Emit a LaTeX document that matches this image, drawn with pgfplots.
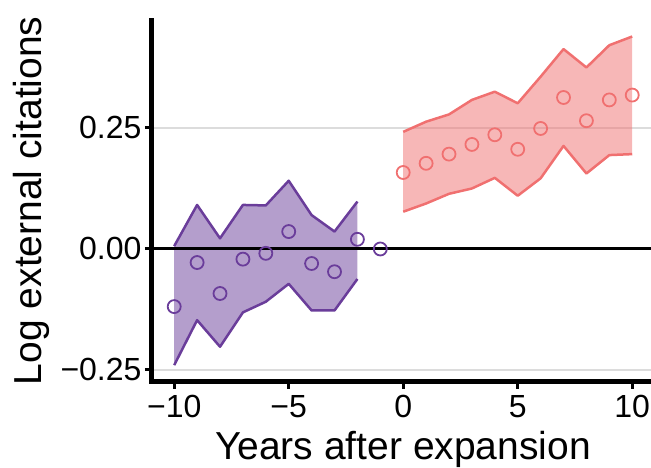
\documentclass[border=0pt]{standalone}
\usepackage{pgfplots}
\usepackage{pgfplotstable}
\pgfplotsset{compat=1.18}
\usepackage{fontspec}
\setmainfont{Liberation Sans}
\definecolor{purp}{HTML}{6A3D9A}
\definecolor{redl}{HTML}{F07070}
\definecolor{gridc}{HTML}{DCDCDC}

% before expansion: yearly mean and interval
\pgfplotstableread{
x mean lo hi
-10 -0.119 -0.240 0.006
-9 -0.028 -0.147 0.091
-8 -0.092 -0.202 0.022
-7 -0.021 -0.131 0.091
-6 -0.009 -0.109 0.090
-5 0.036 -0.072 0.141
-4 -0.030 -0.127 0.070
-3 -0.047 -0.127 0.036
-2 0.020 -0.062 0.098
}\tabBefore

% after expansion: yearly mean and interval
\pgfplotstableread{
x mean lo hi
0 0.158 0.077 0.242
1 0.177 0.094 0.263
2 0.196 0.114 0.278
3 0.216 0.125 0.308
4 0.236 0.147 0.325
5 0.206 0.110 0.301
6 0.249 0.146 0.356
7 0.313 0.213 0.413
8 0.265 0.156 0.375
9 0.308 0.194 0.421
10 0.318 0.196 0.439
}\tabAfter

% ribbon outlines (upper bound forward, lower bound back)
\pgfplotstableread{
x y
-10 0.006
-9 0.091
-8 0.022
-7 0.091
-6 0.090
-5 0.141
-4 0.070
-3 0.036
-2 0.098
-2 -0.062
-3 -0.127
-4 -0.127
-5 -0.072
-6 -0.109
-7 -0.131
-8 -0.202
-9 -0.147
-10 -0.240
}\ribBefore

\pgfplotstableread{
x y
0 0.242
1 0.263
2 0.278
3 0.308
4 0.325
5 0.301
6 0.356
7 0.413
8 0.375
9 0.421
10 0.439
10 0.196
9 0.194
8 0.156
7 0.213
6 0.146
5 0.110
4 0.147
3 0.125
2 0.114
1 0.094
0 0.077
}\ribAfter

\begin{document}
\begin{tikzpicture}
\useasboundingbox (-152bp,-86.5bp) rectangle (499bp,381.5bp);
\begin{axis}[
  scale only axis, width=499bp, height=361.5bp,
  xmin=-10.97, xmax=10.82, ymin=-0.2738, ymax=0.4731,
  axis x line=bottom, axis y line=left,
  axis line style={-, line width=5bp, line cap=rect},
  xtick={-10,-5,0,5,10}, xticklabels={−10,−5,0,5,10},
  ytick={-0.25,0,0.25}, yticklabels={−0.25,0.00,0.25},
  tick align=outside, major tick length=7bp,
  tick style={black, line width=3bp},
  ymajorgrids, grid style={gridc, line width=2.5bp},
  ticklabel style={font=\fontsize{32bp}{38bp}\selectfont},
  xticklabel style={yshift=-3bp},
  xlabel={Years after expansion}, ylabel={Log external citations},
  xlabel style={font=\fontsize{39bp}{46bp}\selectfont, at={([yshift=-77.5bp]axis description cs:0.503,0)}, anchor=base},
  ylabel style={font=\fontsize{39bp}{46bp}\selectfont, at={([xshift=-110bp]axis description cs:0,0.5)}, anchor=base},
]
% ribbons
\addplot[fill=purp, fill opacity=0.5, draw=none] table[x=x,y=y]{\ribBefore} -- cycle;
\addplot[fill=redl, fill opacity=0.5, draw=none] table[x=x,y=y]{\ribAfter} -- cycle;
% ribbon edges
\addplot[purp, line width=2.5bp, line join=round] table[x=x,y=hi]{\tabBefore};
\addplot[purp, line width=2.5bp, line join=round] table[x=x,y=lo]{\tabBefore};
\addplot[redl, line width=2.5bp, line join=round] table[x=x,y=hi]{\tabAfter};
\addplot[redl, line width=2.5bp, line join=round] table[x=x,y=lo]{\tabAfter};
% zero line
\addplot[black, line width=3bp] coordinates {(-10.97,0) (10.82,0)};
% points
\addplot[only marks, mark=o, mark size=6.5bp, purp, mark options={line width=1.8bp}] table[x=x,y=mean]{\tabBefore};
\addplot[only marks, mark=o, mark size=6.5bp, purp, mark options={line width=1.8bp}] coordinates {(-1,0)};
\addplot[only marks, mark=o, mark size=6.5bp, redl, mark options={line width=1.8bp}] table[x=x,y=mean]{\tabAfter};
\end{axis}
\end{tikzpicture}
\end{document}
